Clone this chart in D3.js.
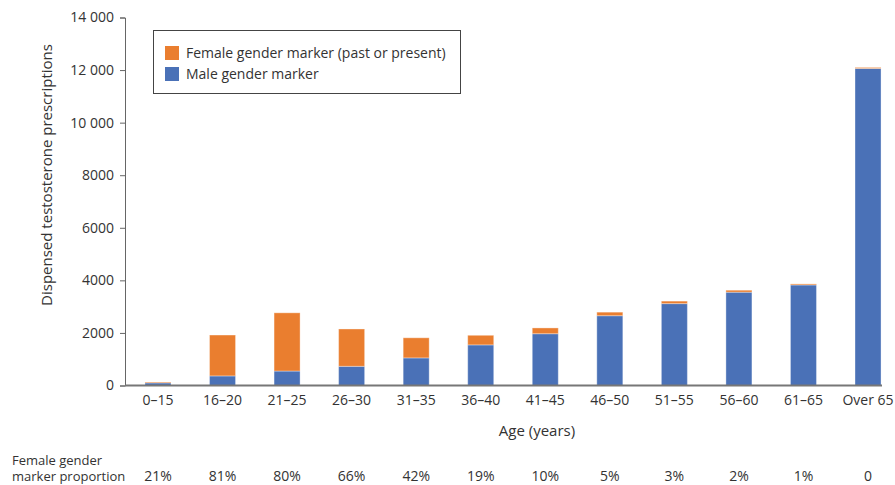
<!DOCTYPE html>
<html><head><meta charset="utf-8">
<script src="https://cdn.jsdelivr.net/npm/d3@7"></script>
<style>body{margin:0;background:#fff}svg{display:block}text{font-family:"Open Sans",sans-serif;fill:#333}</style>
</head><body><svg id="c" width="895" height="485"></svg>
<script>
const categories=["0–15","16–20","21–25","26–30","31–35","36–40","41–45","46–50","51–55","56–60","61–65","Over 65"];
const maleValues=[100,365,550,730,1050,1545,1970,2655,3115,3550,3825,12060];
const femaleValues=[30,1555,2215,1420,765,365,220,135,95,75,40,40];
const proportionLabels=["21%","81%","80%","66%","42%","19%","10%","5%","3%","2%","1%","0"];
const yTicks=[0,2000,4000,6000,8000,10000,12000,14000];
const seriesNames=["Female gender marker (past or present)","Male gender marker"];
const colors={female:"#EA7E2F",male:"#4A71B7"};

const svg=d3.select("#c");
const x=d3.scaleBand().domain(categories).range([125,883]).paddingInner(0.597).paddingOuter(0.17).align(0.91);
const y=d3.scaleLinear().domain([0,14000]).range([385.5,17.5]);
const fmt=v=>v>=10000?d3.format(",")(v).replace(","," "):String(v);

const data=categories.map((c,i)=>({cat:c,male:maleValues[i],female:femaleValues[i]}));
const stack=d3.stack().keys(["male","female"])(data);
svg.append("g").selectAll("g").data(stack).join("g")
 .attr("fill",d=>colors[d.key])
 .selectAll("rect").data(d=>d).join("rect")
 .attr("x",d=>x(d.data.cat)).attr("width",x.bandwidth())
 .attr("y",d=>y(d[1])).attr("height",d=>y(d[0])-y(d[1]))
 .attr("stroke","rgba(255,255,255,0.35)").attr("stroke-width",1);

const ya=svg.append("g").attr("transform","translate(125,0)")
 .call(d3.axisLeft(y).tickValues(yTicks).tickFormat(fmt).tickSize(5).tickPadding(6));
ya.select(".domain").attr("stroke","#666");
ya.selectAll(".tick line").attr("stroke","#666");
ya.selectAll("text").attr("font-size",14).attr("fill","#333").attr("font-family","Open Sans");

const xa=svg.append("g").attr("transform","translate(0,385.5)")
 .call(d3.axisBottom(x).tickSize(0).tickPadding(10).tickSizeOuter(0));
xa.select(".domain").attr("stroke","#777").attr("stroke-width",2).attr("d","M125,0H882");
xa.selectAll("text").attr("font-size",14).attr("fill","#333").attr("font-family","Open Sans");

svg.append("text").attr("x",537).attr("y",436).attr("text-anchor","middle").attr("font-size",15).text("Age (years)");
svg.append("text").attr("transform","translate(52,175) rotate(-90)").attr("text-anchor","middle").attr("font-size",15).text("Dispensed testosterone prescriptions");

svg.append("text").attr("x",12).attr("y",465).attr("font-size",13).text("Female gender");
svg.append("text").attr("x",12).attr("y",481).attr("font-size",13).text("marker proportion");
svg.append("g").selectAll("text").data(categories).join("text")
 .attr("x",(d)=>x(d)+x.bandwidth()/2).attr("y",481).attr("text-anchor","middle").attr("font-size",14)
 .text((d,i)=>proportionLabels[i]);

const lg=svg.append("g");
lg.append("rect").attr("x",153.5).attr("y",30.5).attr("width",307).attr("height",63).attr("fill","#fff").attr("stroke","#444");
[["female",0],["male",1]].forEach(([k,i])=>{
 lg.append("rect").attr("x",165).attr("y",46+i*21).attr("width",14).attr("height",14).attr("fill",colors[k]);
 lg.append("text").attr("x",186).attr("y",58+i*21).attr("font-size",14).text(seriesNames[i]);
});
</script></body></html>
